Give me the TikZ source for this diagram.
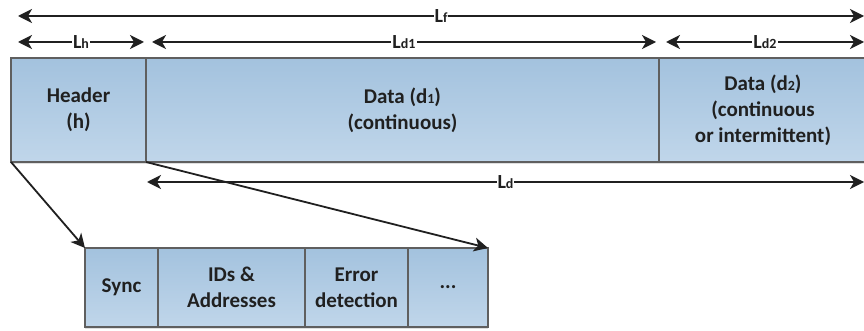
\documentclass[tikz,border=0pt]{standalone}
\usepackage{fontspec}
\setmainfont{Carlito}
\usetikzlibrary{positioning,arrows.meta,shadows}
\definecolor{boxgray}{RGB}{95,95,95}
\definecolor{txtgray}{RGB}{32,32,32}
\definecolor{fldtop}{RGB}{163,194,222}
\definecolor{fldbot}{RGB}{192,214,234}
\newcommand{\sbs}[1]{\raisebox{-0.5pt}{\fontsize{14}{14}\selectfont #1}}

\begin{document}
\begin{tikzpicture}[x=1pt,y=-1pt]%
  \tikzstyle{fld}=[rectangle,draw=boxgray,line width=2pt,top color=fldtop,bottom color=fldbot,
    outer sep=0pt,inner sep=0pt,align=center,text=txtgray,
    font=\fontsize{21}{26}\selectfont\bfseries,
    drop shadow={opacity=0.25,shadow xshift=0pt,shadow yshift=-2pt}]
  \tikzstyle{dim}=[{Stealth[length=14pt,width=14pt,inset=4pt]}-{Stealth[length=14pt,width=14pt,inset=4pt]},
    line width=1.8pt,draw=txtgray]
  \tikzstyle{zoom}=[-{Stealth[length=14pt,width=14pt,inset=4pt]},line width=1.8pt,draw=txtgray]
  \tikzstyle{lbl}=[fill=white,inner sep=1pt,text=txtgray,font=\fontsize{20}{20}\selectfont\bfseries]
  \useasboundingbox (0,0) rectangle (864,331);
  % frame
  \node(hdr)[fld,minimum width=135pt,minimum height=104pt,anchor=north west] at (11,58) {Header\\(h)};
  \node(d1)[fld,minimum width=513pt,minimum height=104pt,right=0pt of hdr] {Data (d\sbs{1})\\(continuous)};
  \node(d2)[fld,minimum width=208pt,minimum height=104pt,right=0pt of d1] {Data (d\sbs{2})\\(continuous\\or intermittent)};
  % header fields
  \node(sync)[fld,minimum width=73pt,minimum height=79pt,anchor=north west] at (85,248) {Sync};
  \node(ids)[fld,minimum width=147pt,minimum height=79pt,right=0pt of sync] {IDs \&\\Addresses};
  \node(err)[fld,minimum width=103pt,minimum height=79pt,right=0pt of ids] {Error\\detection};
  \node(etc)[fld,minimum width=80pt,minimum height=79pt,right=0pt of err] {...};
  % lengths
  \coordinate(f0) at (18,16);  \coordinate(f1) at (864,16);
  \coordinate(h0) at (18,42);  \coordinate(h1) at (144,42);
  \coordinate(a0) at (152,42); \coordinate(a1) at (656,42);
  \coordinate(b0) at (666,42); \coordinate(b1) at (864,42);
  \coordinate(d0) at (147,182); \coordinate(dd) at (864,182);
  \draw[dim] (f0) -- node[lbl]{L\sbs{f}} (f1);
  \draw[dim] (h0) -- node[lbl]{L\sbs{h}} (h1);
  \draw[dim] (a0) -- node[lbl]{L\sbs{d1}} (a1);
  \draw[dim] (b0) -- node[lbl]{L\sbs{d2}} (b1);
  \draw[dim] (d0) -- node[lbl]{L\sbs{d}} (dd);
  % zoom lines
  \draw[zoom] (hdr.south west) -- (sync.north west);
  \draw[zoom] (hdr.south east) -- (etc.north east);
\end{tikzpicture}
\end{document}
